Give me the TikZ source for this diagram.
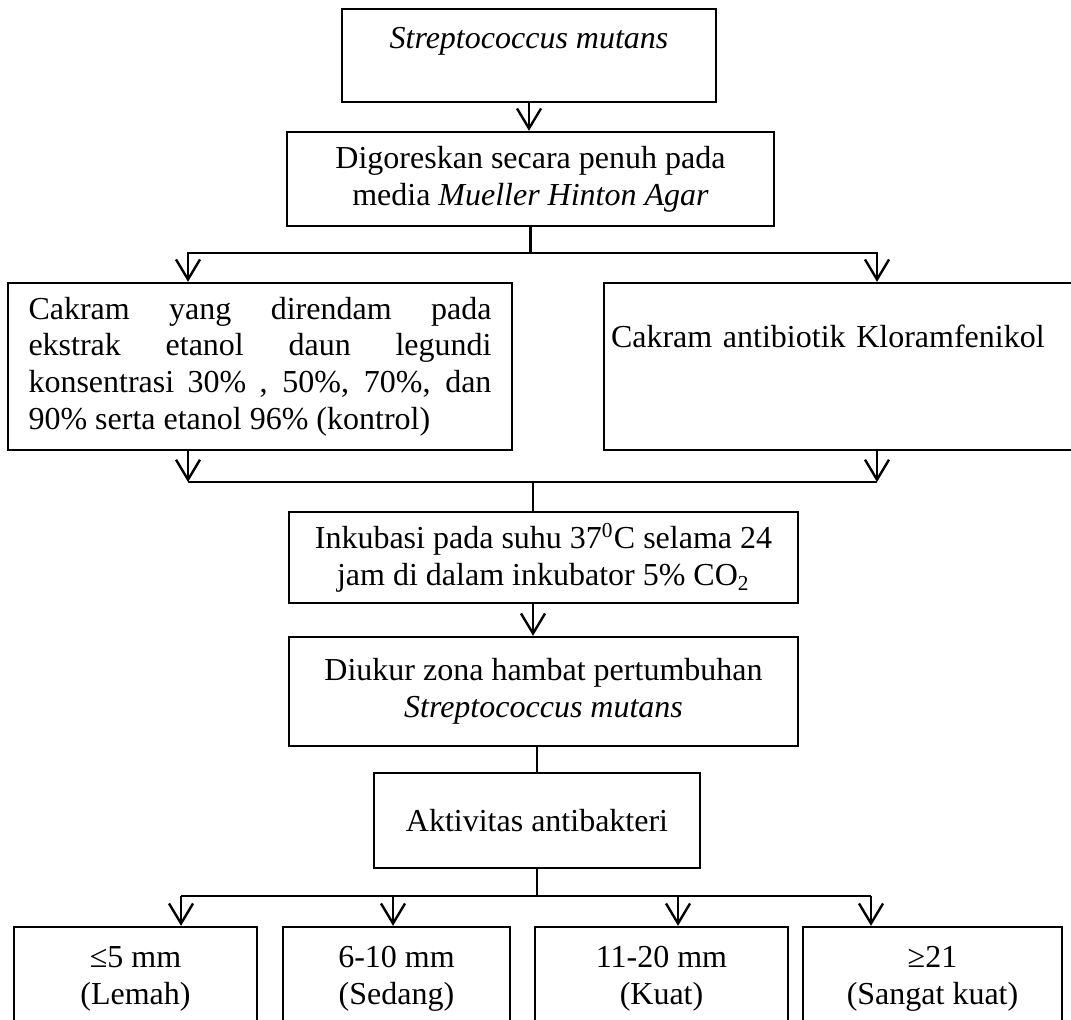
\documentclass[tikz,border=0pt]{standalone}
\usepackage{fontspec}
\setmainfont{Liberation Serif}
\usetikzlibrary{arrows.meta}
\newcommand\pxu{0.375pt}

\begin{document}
\begin{tikzpicture}[x=\pxu,y=-\pxu,line width=0.9pt,
  every node/.style={font=\fontsize{12}{13.8}\selectfont},
  box/.style={draw,inner sep=2pt},
  arr/.style={-{Straight Barb[length=7.5pt,width=9pt]}}]
\useasboundingbox (0,0) rectangle (1071,1019);
\clip (0,0) rectangle (1071,1019);
% boxes
\node[box,minimum width=374*\pxu,minimum height=93*\pxu,text height=9pt,text depth=14.6pt] (b1) at (529,55.5) {\textit{Streptococcus mutans}};
\node[box,minimum width=487*\pxu,minimum height=94*\pxu,align=center] (b2) at (530.5,179) {Digoreskan secara penuh pada\\media \textit{Mueller Hinton Agar}};
\node[box,minimum width=504*\pxu,minimum height=167*\pxu,text width=173.6pt,align=justify] (b3L) at (260,366.5) {Cakram yang direndam pada\linebreak ekstrak etanol daun legundi\linebreak konsentrasi 30\% , 50\%, 70\%, dan\linebreak 90\% serta etanol 96\% (kontrol)};
\node[box,minimum width=486*\pxu,minimum height=167*\pxu,text width=177pt,align=left,inner xsep=2.25pt,text height=9pt,text depth=23pt] (b3R) at (847,366.5) {Cakram antibiotik Kloramfenikol};
\node[box,minimum width=509*\pxu,minimum height=91*\pxu,align=center] (b4) at (543.5,557.5) {Inkubasi pada suhu 37\textsuperscript{0}C selama 24\\jam di dalam inkubator 5\% CO\textsubscript{2}};
\node[box,minimum width=509*\pxu,minimum height=109*\pxu,align=center] (b5) at (543.5,691.5) {Diukur zona hambat pertumbuhan\\\textit{Streptococcus mutans}};
\node[box,minimum width=326*\pxu,minimum height=95*\pxu] (b6) at (537,820.5) {Aktivitas antibakteri};
% result classes
\node[box,minimum width=243*\pxu,minimum height=103*\pxu,align=center] (bA) at (135.5,978.5) {≤5 mm\\(Lemah)};
\node[box,minimum width=227*\pxu,minimum height=103*\pxu,align=center] (bB) at (396.5,978.5) {6-10 mm\\(Sedang)};
\node[box,minimum width=253*\pxu,minimum height=103*\pxu,align=center] (bC) at (661.5,978.5) {11-20 mm\\(Kuat)};
\node[box,minimum width=259*\pxu,minimum height=103*\pxu,align=center] (bD) at (932.5,978.5) {≥21\\(Sangat kuat)};
% junctions
\coordinate (jA) at (530.5,253);
\coordinate (xL) at (188,0);
\coordinate (xR) at (877,0);
\coordinate (jB) at (533,482);
\coordinate (jC) at (537,896);
% connectors
\draw[arr] (b1.south) -- (b1.south |- b2.north);
\draw (b2.south) -- (jA);
\draw[arr] (jA) -| (b3L.north -| xL);
\draw[arr] (jA) -| (b3R.north -| xR);
\draw[arr] (b3L.south -| xL) -- (jB -| xL);
\draw[arr] (b3R.south -| xR) -- (jB -| xR);
\draw (jB -| xL) -- (jB -| xR);
\draw (jB) -- (b4.north -| jB);
\draw[arr] (b4.south -| jB) -- (b5.north -| jB);
\draw (b5.south -| b6.north) -- (b6.north);
\draw (b6.south) -- (jC);
\foreach \b/\x in {bA/181,bB/393,bC/678,bD/871}{
  \coordinate (t\b) at (\x,896);
  \draw[arr] (t\b) -- (t\b |- \b.north);
}
\draw (tbA) -- (tbD);
\end{tikzpicture}
\end{document}
